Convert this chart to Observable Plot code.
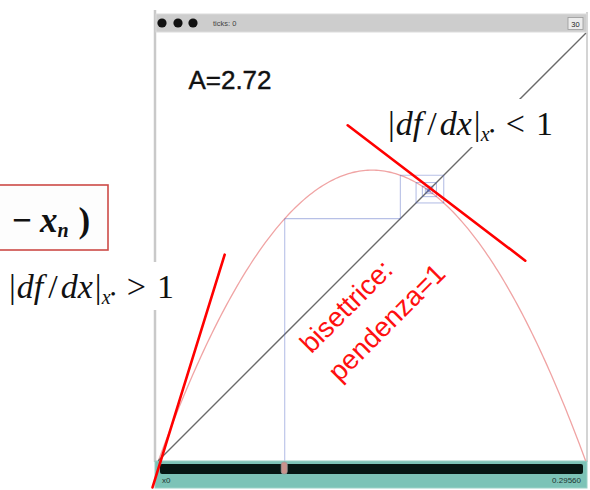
<!DOCTYPE html>
<html>
<head>
<meta charset="utf-8">
<script src="https://cdn.jsdelivr.net/npm/d3@7"></script>
<script src="https://cdn.jsdelivr.net/npm/@observablehq/plot@0.6"></script>
<style>
  html, body { margin: 0; padding: 0; background: #fff; }
  #chart { width: 590px; height: 490px; overflow: hidden; }
  svg { overflow: visible; }
</style>
</head>
<body>
<div id="chart"></div>
<script>
// Logistic map x_{n+1} = A x_n (1 - x_n)
const A = 2.72;
const x0 = 0.2956;
const sliderValue = "0.29560";
const sliderName = "x0";
const ticksLabel = "ticks: 0";
const speedLabel = "30";

// successive iterates starting from x0
const orbit = [0.2956, 0.5664, 0.6680, 0.6032, 0.6510, 0.6180, 0.6422, 0.6250,
               0.6375, 0.6286, 0.6350, 0.6304, 0.6337, 0.6314, 0.6331, 0.6319];

// bisector y = x
const bisector = [{x: 0, y: 0}, {x: 1, y: 1}];

// hand-drawn slope guides: steep one at the origin, shallow one at the fixed point
const slopeOut = [{x: -0.014, y: -0.063}, {x: 0.155, y: 0.482}];
const slopeIn = [{x: 0.443, y: 0.785}, {x: 0.859, y: 0.468}];

const bisectorNote = "bisettrice:\npendenza=1";

// the map itself, sampled across [0, 1]
const curve = d3.range(0, 201).map(i => {
  const x = i / 200;
  return {x, y: A * x * (1 - x)};
});

// cobweb: vertical to the curve, horizontal to the bisector
const cobweb = [{x1: orbit[0], y1: 0, x2: orbit[0], y2: orbit[1]}];
for (let i = 1; i < orbit.length - 1; i++) {
  cobweb.push({x1: orbit[i - 1], y1: orbit[i], x2: orbit[i], y2: orbit[i]});
  cobweb.push({x1: orbit[i], y1: orbit[i], x2: orbit[i], y2: orbit[i + 1]});
}

const plot = Plot.plot({
  width: 590,
  height: 490,
  marginLeft: 158,
  marginRight: 5,
  marginTop: 33,
  marginBottom: 30,
  x: {domain: [0, 1], axis: null},
  y: {domain: [0, 1], axis: null},
  style: {background: "transparent", overflow: "visible"},
  marks: [
    Plot.line(curve, {x: "x", y: "y", stroke: "#f0a4a4", strokeWidth: 1.3}),
    Plot.line(bisector, {x: "x", y: "y", stroke: "#6a6a6a", strokeWidth: 1.4}),
    Plot.link(cobweb, {x1: "x1", y1: "y1", x2: "x2", y2: "y2",
      stroke: "#4a62c0", strokeOpacity: 0.4, strokeWidth: 1.1}),
    Plot.text([`A=${A}`], {x: 0.07, y: 0.871, text: d => d, textAnchor: "start",
      lineAnchor: "bottom", fontSize: 26, fontFamily: "Liberation Sans, Arial, sans-serif",
      fill: "#111", stroke: "#111", strokeWidth: 0.4}),
    Plot.text([bisectorNote], {x: 0.311, y: 0.295, text: d => d, rotate: -45,
      textAnchor: "start", lineAnchor: "top", lineHeight: 1.45, fontSize: 27.5,
      fontFamily: "Liberation Sans, Arial, sans-serif", fill: "#ff1010"}),
    Plot.line(slopeOut, {x: "x", y: "y", stroke: "#ff0000", strokeWidth: 2.6}),
    Plot.line(slopeIn, {x: "x", y: "y", stroke: "#ff0000", strokeWidth: 2.6})
  ]
});

document.getElementById("chart").appendChild(plot);

const svg = d3.select(plot);
const xs = plot.scale("x");
const sans = "Liberation Sans, Arial, sans-serif";
const serif = "Liberation Serif, Times New Roman, serif";

// window chrome, kept beneath the plotted marks
const chrome = svg.insert("g", ":first-child").attr("text-anchor", "start");
chrome.append("line").attr("x1", 155).attr("x2", 155).attr("y1", 10).attr("y2", 462)
  .attr("stroke", "#c9c9c9").attr("stroke-width", 2.5);
chrome.append("line").attr("x1", 587).attr("x2", 587).attr("y1", 12).attr("y2", 462)
  .attr("stroke", "#d4d4d4").attr("stroke-width", 2);
chrome.append("rect").attr("x", 156).attr("y", 14).attr("width", 431).attr("height", 18)
  .attr("fill", "#cdcdcd").attr("stroke", "#dcdcdc");
[162, 178, 193].forEach(cx => chrome.append("circle").attr("cx", cx).attr("cy", 23)
  .attr("r", 4.6).attr("fill", "#121212"));
chrome.append("text").attr("x", 213).attr("y", 26).attr("font-size", 7.5)
  .attr("font-family", sans).attr("fill", "#444").text(ticksLabel);
chrome.append("rect").attr("x", 568).attr("y", 17.5).attr("width", 15).attr("height", 12)
  .attr("fill", "#ececec").attr("stroke", "#9a9a9a").attr("stroke-width", 0.8);
chrome.append("text").attr("x", 575.5).attr("y", 26.5).attr("text-anchor", "middle")
  .attr("font-size", 7.5).attr("font-family", sans).attr("fill", "#222").text(speedLabel);

// slider for x0
chrome.append("rect").attr("x", 155).attr("y", 461).attr("width", 432).attr("height", 27)
  .attr("fill", "#7cc3b7").attr("stroke", "#9ad0c6");
chrome.append("rect").attr("x", 160).attr("y", 464).attr("width", 423).attr("height", 10)
  .attr("rx", 2).attr("fill", "#061613");
chrome.append("rect").attr("x", xs.apply(x0) - 3).attr("y", 462).attr("width", 6)
  .attr("height", 12).attr("rx", 2.5).attr("fill", "#c9928c").attr("stroke", "#9a9a9a")
  .attr("stroke-width", 0.8);
chrome.append("text").attr("x", 162).attr("y", 483).attr("font-size", 8)
  .attr("font-family", sans).attr("fill", "#1c3531").text(sliderName);
chrome.append("text").attr("x", 581).attr("y", 483).attr("text-anchor", "end").attr("font-size", 8)
  .attr("font-family", sans).attr("fill", "#1c3531").text(sliderValue);

// derivative conditions written as formulas
function condition(g, x, y, rel, boxW) {
  g.append("rect").attr("x", x - 8).attr("y", y - 36).attr("width", boxW).attr("height", 48)
    .attr("fill", "#fff");
  const t = g.append("text").attr("x", x).attr("y", y).attr("font-family", serif)
    .attr("font-size", 34).attr("fill", "#111");
  t.append("tspan").text("|");
  t.append("tspan").attr("dx", 1).attr("font-style", "italic").text("df");
  t.append("tspan").attr("dx", 5).text("/");
  t.append("tspan").attr("dx", 3).attr("font-style", "italic").text("dx");
  t.append("tspan").attr("dx", 2).text("|");
  t.append("tspan").attr("font-style", "italic").attr("font-size", 20).attr("dy", 6).text("x");
  t.append("tspan").attr("font-size", 15).attr("dy", -5).text("\u2022");
  t.append("tspan").attr("dy", -1).attr("dx", 11).text(rel);
  t.append("tspan").attr("dx", 11).text("1");
}
const notes = svg.append("g").attr("text-anchor", "start");
condition(notes, 388, 135, "<", 178);
condition(notes, 9, 298, ">", 182);

// fragment of the boxed recurrence at the left edge
const boxed = notes.append("g");
boxed.append("rect").attr("x", -10).attr("y", 185).attr("width", 118).attr("height", 65)
  .attr("fill", "#fdfdfd").attr("stroke", "#cc4a46").attr("stroke-width", 1.6);
const f = boxed.append("text").attr("x", 12).attr("y", 232).attr("font-family", serif)
  .attr("font-size", 35).attr("fill", "#111");
f.append("tspan").attr("font-weight", "bold").text("\u2212");
f.append("tspan").attr("dx", 8).attr("font-weight", "bold").attr("font-style", "italic").text("x");
f.append("tspan").attr("font-weight", "bold").attr("font-style", "italic")
  .attr("font-size", 20).attr("dy", 5).text("n");
f.append("tspan").attr("dy", -5).attr("dx", 10).attr("font-weight", "bold").text(")");
</script>
</body>
</html>
